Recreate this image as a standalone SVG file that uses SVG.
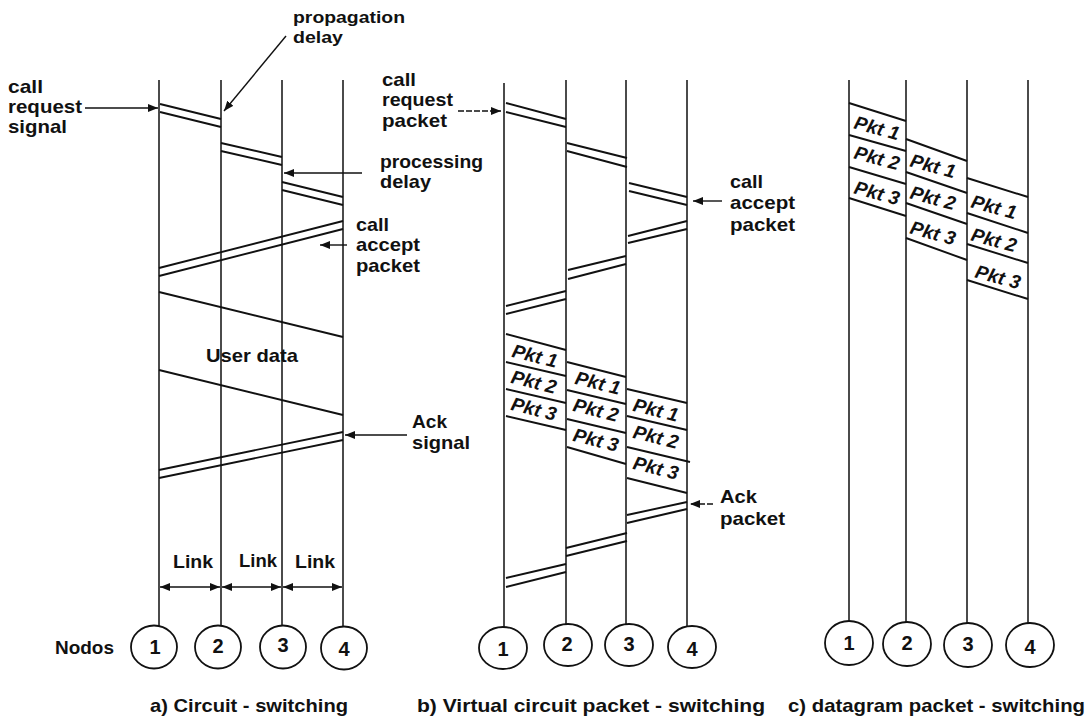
<svg xmlns="http://www.w3.org/2000/svg" width="1089" height="721" viewBox="0 0 1089 721">
<style>
.bg{fill:#fff}
.v{stroke:#111;stroke-width:1.5;fill:none}
.s{stroke:#111;stroke-width:1.9;fill:none}
.a{stroke:#111;stroke-width:1.4;fill:none;marker-end:url(#ah)}
.ad{stroke:#111;stroke-width:1.4;fill:none;marker-end:url(#ah);stroke-dasharray:6 2}
.l2{stroke:#111;stroke-width:1.4;fill:none;marker-start:url(#ah);marker-end:url(#ah)}
.n{fill:#fff;stroke:#111;stroke-width:1.8}
.t{font-family:"Liberation Sans",Arial,sans-serif;font-weight:bold;font-size:19px;fill:#111}
.sm{font-size:17px}
.num{font-family:"Liberation Sans",Arial,sans-serif;font-weight:bold;font-size:20px;fill:#111;text-anchor:middle}
.p{font-family:"Liberation Sans",Arial,sans-serif;font-weight:bold;font-style:italic;font-size:19px;fill:#111;text-anchor:middle}
</style>
<defs>
<marker id="ah" viewBox="0 0 10 8" refX="10" refY="4" markerWidth="10" markerHeight="8" markerUnits="userSpaceOnUse" orient="auto-start-reverse">
<path d="M0,0 L10,4 L0,8 z" fill="#111"/>
</marker>
</defs>
<rect class="bg" x="0" y="0" width="1089" height="721"/>

<g id="connectors">
<path class="v" d="M159,80 V626 M221,80 V626 M282,80 V626 M343,80 V626"/>
<path class="s" d="M160,104 L221,119 M160,112 L221,127 M221,143 L282,157 M221,151 L282,165 M282,182 L343,197 M282,190 L343,205"/>
<path class="s" d="M343,221 L159,268 M343,229 L159,276"/>
<path class="s" d="M159,292 L343,337 M159,370 L343,415"/>
<path class="s" d="M343,432 L159,470 M343,440 L159,478"/>
<path class="a" d="M85,108 L158,108"/>
<path class="a" d="M286,36 L224,111"/>
<path class="a" d="M362,173 L284,173"/>
<path class="a" d="M347,245 L320,245"/>
<path class="a" d="M407,435 L345,435"/>
<path class="l2" d="M160,587 L220,587"/>
<path class="l2" d="M222,587 L281,587"/>
<path class="l2" d="M283,587 L342,587"/>

<path class="v" d="M504,83 V627 M566,80 V624 M626,80 V624 M687,80 V626"/>
<path class="s" d="M506,103 L566,119 M506,112 L566,127 M567,143 L627,158 M567,151 L627,167 M629,183 L687,197 M629,191 L687,205"/>
<path class="s" d="M687,221 L628,236 M687,229 L628,243 M626,256 L568,270 M626,264 L568,279 M566,291 L506,306 M566,299 L506,314"/>
<path class="s" d="M506,334 L566,350 M506,362 L566,376 M506,389 L566,403 M506,416 L566,430"/>
<path class="s" d="M567,362 L626,377 M567,390 L626,404 M567,419 L626,433 M567,447 L626,464"/>
<path class="s" d="M627,389 L687,403 M627,416 L687,430 M627,447 L690,462 M627,478 L687,493"/>
<path class="s" d="M687,502 L627,515 M687,509 L627,523 M627,533 L566,548 M627,541 L566,556 M566,564 L506,578 M566,572 L506,587"/>
<path class="ad" d="M458,111 L501,111"/>
<path class="a" d="M722,201 L693,201"/>
<path class="ad" d="M713,504 L690,504"/>

<path class="v" d="M849,80 V621 M906,80 V622 M967,80 V623 M1028,80 V623"/>
<path class="s" d="M849,103 L906,121 M849,135 L906,151 M849,167 L906,184 M849,198 L906,216"/>
<path class="s" d="M906,139 L967,161 M906,172 L967,193 M906,203 L967,224 M906,238 L967,260"/>
<path class="s" d="M967,178 L1028,197 M967,213 L1028,233 M967,244 L1028,263 M967,280 L1028,299"/>
</g>

<g id="nodes-a">
<g id="a-node-1"><ellipse class="n" cx="154" cy="647" rx="23" ry="21.5"/><text class="num" x="155" y="654">1</text></g>
<g id="a-node-2"><ellipse class="n" cx="218" cy="647" rx="23" ry="21.5"/><text class="num" x="218" y="653">2</text></g>
<g id="a-node-3"><ellipse class="n" cx="283" cy="647" rx="23" ry="21.5"/><text class="num" x="283" y="652">3</text></g>
<g id="a-node-4"><ellipse class="n" cx="344" cy="648" rx="23" ry="21.5"/><text class="num" x="344" y="656">4</text></g>
</g>
<g id="nodes-b">
<g id="b-node-1"><ellipse class="n" cx="503" cy="648" rx="24" ry="21"/><text class="num" x="503" y="656">1</text></g>
<g id="b-node-2"><ellipse class="n" cx="568" cy="645" rx="24" ry="21"/><text class="num" x="567" y="651">2</text></g>
<g id="b-node-3"><ellipse class="n" cx="629" cy="645" rx="24" ry="21"/><text class="num" x="629" y="651">3</text></g>
<g id="b-node-4"><ellipse class="n" cx="692" cy="647" rx="24" ry="21"/><text class="num" x="692" y="656">4</text></g>
</g>
<g id="nodes-c">
<g id="c-node-1"><ellipse class="n" cx="849" cy="643" rx="24" ry="22"/><text class="num" x="849" y="650">1</text></g>
<g id="c-node-2"><ellipse class="n" cx="907" cy="644" rx="24" ry="22"/><text class="num" x="907" y="650">2</text></g>
<g id="c-node-3"><ellipse class="n" cx="968" cy="645" rx="24" ry="22"/><text class="num" x="968" y="651">3</text></g>
<g id="c-node-4"><ellipse class="n" cx="1030" cy="645" rx="24" ry="22"/><text class="num" x="1030" y="654">4</text></g>
</g>

<g id="labels">
<text class="t" x="8" y="93" textLength="35" lengthAdjust="spacingAndGlyphs">call</text>
<text class="t" x="8" y="113" textLength="74" lengthAdjust="spacingAndGlyphs">request</text>
<text class="t" x="8" y="133" textLength="59" lengthAdjust="spacingAndGlyphs">signal</text>
<text class="t sm" x="293" y="23" textLength="112" lengthAdjust="spacingAndGlyphs">propagation</text>
<text class="t sm" x="293" y="43" textLength="50" lengthAdjust="spacingAndGlyphs">delay</text>
<text class="t" x="380" y="168" textLength="103" lengthAdjust="spacingAndGlyphs">processing</text>
<text class="t" x="380" y="188" textLength="51" lengthAdjust="spacingAndGlyphs">delay</text>
<text class="t" x="356" y="231" textLength="33" lengthAdjust="spacingAndGlyphs">call</text>
<text class="t" x="356" y="251" textLength="64" lengthAdjust="spacingAndGlyphs">accept</text>
<text class="t" x="356" y="272" textLength="64" lengthAdjust="spacingAndGlyphs">packet</text>
<text class="t" x="206" y="362" textLength="92" lengthAdjust="spacingAndGlyphs">User data</text>
<text class="t" x="412" y="428" textLength="35" lengthAdjust="spacingAndGlyphs">Ack</text>
<text class="t" x="412" y="449" textLength="58" lengthAdjust="spacingAndGlyphs">signal</text>
<text class="t" x="173" y="568" textLength="40" lengthAdjust="spacingAndGlyphs">Link</text>
<text class="t" x="239" y="567" textLength="38" lengthAdjust="spacingAndGlyphs">Link</text>
<text class="t" x="295" y="568" textLength="40" lengthAdjust="spacingAndGlyphs">Link</text>
<text class="t" x="55" y="654" textLength="59" lengthAdjust="spacingAndGlyphs">Nodos</text>
<text class="t" x="150" y="712" textLength="198" lengthAdjust="spacingAndGlyphs">a) Circuit - switching</text>

<text class="t" x="382" y="86" textLength="34" lengthAdjust="spacingAndGlyphs">call</text>
<text class="t" x="382" y="106" textLength="71" lengthAdjust="spacingAndGlyphs">request</text>
<text class="t" x="382" y="127" textLength="65" lengthAdjust="spacingAndGlyphs">packet</text>
<text class="t" x="730" y="188" textLength="33" lengthAdjust="spacingAndGlyphs">call</text>
<text class="t" x="730" y="209" textLength="65" lengthAdjust="spacingAndGlyphs">accept</text>
<text class="t" x="730" y="231" textLength="65" lengthAdjust="spacingAndGlyphs">packet</text>
<text class="t" x="720" y="503" textLength="37" lengthAdjust="spacingAndGlyphs">Ack</text>
<text class="t" x="720" y="525" textLength="65" lengthAdjust="spacingAndGlyphs">packet</text>
<text class="t" x="417" y="712" textLength="348" lengthAdjust="spacingAndGlyphs">b) Virtual circuit packet - switching</text>
<text class="t" x="788" y="712" textLength="297" lengthAdjust="spacingAndGlyphs">c) datagram packet - switching</text>

<g id="pkts-b">
<text class="p" transform="translate(535,356) rotate(14)" y="6.5" textLength="46" lengthAdjust="spacingAndGlyphs">Pkt 1</text>
<text class="p" transform="translate(534,382) rotate(14)" y="6.5" textLength="46" lengthAdjust="spacingAndGlyphs">Pkt 2</text>
<text class="p" transform="translate(534,409) rotate(14)" y="6.5" textLength="46" lengthAdjust="spacingAndGlyphs">Pkt 3</text>
<text class="p" transform="translate(598,383) rotate(14)" y="6.5" textLength="46" lengthAdjust="spacingAndGlyphs">Pkt 1</text>
<text class="p" transform="translate(596,410) rotate(14)" y="6.5" textLength="46" lengthAdjust="spacingAndGlyphs">Pkt 2</text>
<text class="p" transform="translate(596,440) rotate(14)" y="6.5" textLength="46" lengthAdjust="spacingAndGlyphs">Pkt 3</text>
<text class="p" transform="translate(656,410) rotate(14)" y="6.5" textLength="46" lengthAdjust="spacingAndGlyphs">Pkt 1</text>
<text class="p" transform="translate(656,437) rotate(14)" y="6.5" textLength="46" lengthAdjust="spacingAndGlyphs">Pkt 2</text>
<text class="p" transform="translate(656,468) rotate(14)" y="6.5" textLength="46" lengthAdjust="spacingAndGlyphs">Pkt 3</text>
</g>
<g id="pkts-c">
<text class="p" transform="translate(877,128) rotate(15)" y="6.5" textLength="46" lengthAdjust="spacingAndGlyphs">Pkt 1</text>
<text class="p" transform="translate(877,158) rotate(15)" y="6.5" textLength="46" lengthAdjust="spacingAndGlyphs">Pkt 2</text>
<text class="p" transform="translate(877,193) rotate(15)" y="6.5" textLength="46" lengthAdjust="spacingAndGlyphs">Pkt 3</text>
<text class="p" transform="translate(933,166) rotate(15)" y="6.5" textLength="46" lengthAdjust="spacingAndGlyphs">Pkt 1</text>
<text class="p" transform="translate(933,198) rotate(15)" y="6.5" textLength="46" lengthAdjust="spacingAndGlyphs">Pkt 2</text>
<text class="p" transform="translate(933,233) rotate(15)" y="6.5" textLength="46" lengthAdjust="spacingAndGlyphs">Pkt 3</text>
<text class="p" transform="translate(994,207) rotate(15)" y="6.5" textLength="46" lengthAdjust="spacingAndGlyphs">Pkt 1</text>
<text class="p" transform="translate(994,240) rotate(15)" y="6.5" textLength="46" lengthAdjust="spacingAndGlyphs">Pkt 2</text>
<text class="p" transform="translate(998,277) rotate(15)" y="6.5" textLength="46" lengthAdjust="spacingAndGlyphs">Pkt 3</text>
</g>
</g>
</svg>
